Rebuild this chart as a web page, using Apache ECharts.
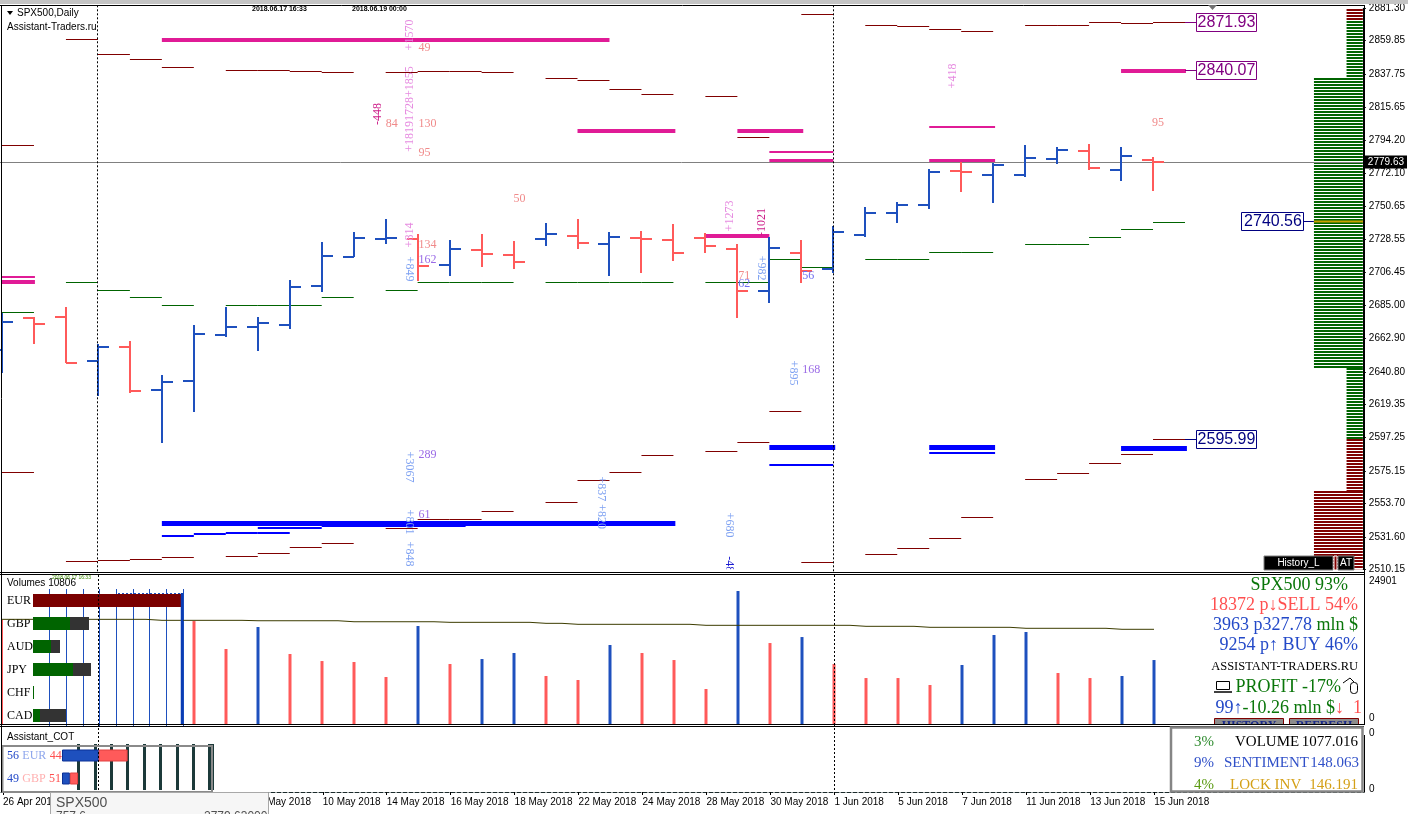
<!DOCTYPE html>
<html>
<head>
<meta charset="utf-8">
<title>SPX500 Daily</title>
<script src="https://cdn.jsdelivr.net/npm/echarts@6.0.0/dist/echarts.min.js"></script>
<style>
  html, body { margin: 0; padding: 0; background: #fff; }
  #chart { width: 1408px; height: 814px; }
</style>
</head>
<body>
<div id="chart"></div>
<script>
const BLUE = '#1E50BE', RED = '#FF5A5A';
const MAROON = '#800000', DKGREEN = '#006400', MAGENTA = '#E01B96', PUREBLUE = '#0000FF';
const SANS = '"Liberation Sans", Arial, sans-serif';
const SERIF = '"Liberation Serif", "Times New Roman", serif';

// trading days, one bar each
const days = ['26 Apr','27 Apr','30 Apr','1 May','2 May','3 May','4 May','7 May','8 May','9 May',
  '10 May','11 May','14 May','15 May','16 May','17 May','18 May','21 May','22 May','23 May',
  '24 May','25 May','28 May','29 May','30 May','31 May','1 Jun','4 Jun','5 Jun','6 Jun',
  '7 Jun','8 Jun','11 Jun','12 Jun','13 Jun','14 Jun','15 Jun'];
const dateTicks = [0,2,4,6,8,10,12,14,16,18,20,22,24,26,28,30,32,34,36];
const monthStarts = [3, 26];
const priceTicks = [2881.30,2859.85,2837.75,2815.65,2794.20,2772.10,2750.65,2728.55,2706.45,
  2685.00,2662.90,2640.80,2619.35,2597.25,2575.15,2553.70,2531.60,2510.15];

const opens = [2655.00,2676.60,2677.27,2648.16,2657.42,2628.97,2634.92,2665.36,2670.65,2671.97,
  2697.58,2716.96,2728.47,2728.67,2711.47,2721.59,2718.28,2728.87,2730.85,2725.56,
  2729.33,2727.81,2729.53,2721.86,2694.47,2719.61,2708.63,2731.32,2746.07,2751.36,
  2773.40,2770.83,2770.83,2781.80,2787.09,2774.32,2780.94];
const highs = [2679.52,2677.00,2683.48,2659.20,2661.19,2638.69,2671.77,2683.88,2676.87,2701.55,
  2726.49,2733.10,2741.90,2731.78,2728.01,2731.98,2727.35,2739.46,2741.90,2733.30,
  2734.16,2738.60,2732.44,2725.16,2730.19,2728.01,2737.27,2749.64,2753.35,2774.78,
  2779.81,2779.15,2790.86,2789.34,2791.52,2789.74,2783.12];
const lows = [2640.22,2659.01,2646.50,2624.80,2626.59,2593.91,2614.41,2663.64,2654.77,2668.93,
  2693.80,2716.50,2725.16,2700.88,2704.19,2710.35,2708.63,2724.24,2721.86,2704.39,
  2706.38,2714.31,2719.21,2676.21,2686.53,2699.76,2705.98,2729.80,2739.06,2748.32,
  2759.96,2752.29,2769.49,2778.09,2774.32,2767.24,2760.63];
const closes = [2673.96,2672.63,2646.80,2657.42,2628.31,2634.26,2666.02,2670.65,2672.90,2697.11,
  2717.42,2729.53,2729.53,2711.01,2721.86,2718.75,2713.65,2732.18,2726.02,2730.19,
  2728.87,2719.61,2724.24,2694.47,2722.92,2707.70,2733.50,2746.07,2751.36,2773.20,
  2772.90,2777.83,2782.46,2787.55,2775.84,2783.38,2779.63];
const lastClose = 2779.63;

// per-bar step levels (segment from bar i to bar i+1)
const upperBand = [2790.66,null,2860.79,2850.87,2847.56,2842.27,null,2840.28,2840.28,2839.62,
  2838.50,null,2838.50,2839.16,2839.16,2838.50,null,2834.99,2833.67,2827.71,
  2824.40,null,2823.08,2796.15,2801.25,2876.87,null,2869.59,2868.93,2867.41,
  2866.28,null,2869.59,2869.59,2872.04,2871.38,2871.93];
const lowerBand = [2574.32,null,2515.44,2516.10,2516.76,2518.09,null,2518.75,2520.73,2524.70,
  2527.35,null,2537.27,2543.23,2543.23,2548.72,null,2554.47,2569.03,2574.32,
  2585.57,null,2588.22,2594.17,2614.68,2514.78,null,2520.07,2524.24,2530.66,
  2544.55,null,2569.69,2573.66,2580.28,2586.43,2595.99];
const midBand = [2680.18,null,2700.02,2694.73,2690.10,2684.81,null,2684.81,2684.81,2684.81,
  2690.10,null,2694.73,2700.02,2700.02,2700.02,null,2700.02,2700.02,2700.02,
  2700.02,null,2700.02,2700.02,2715.24,2709.95,null,2715.24,2715.24,2719.87,
  2719.87,null,2725.16,2725.16,2729.80,2735.09,2739.72];

// zones: [fromBar, toBar, price]
const sellZonesMain = [[0,1.03,2700.42],[5,19,2860.33],[18,21.06,2800.12],[23,25.06,2800.12],
  [24,26,2780.47],[29,31.06,2780.47],[35,37.03,2840.07],[22,24,2730.46]];
const sellZonesEdge = [[0,1.03,2703.73],[24,26,2786.23],[29,31.06,2802.97]];
const buyZonesMain = [[5,21.06,2540.78],[24,26.06,2590.60],[29,31.06,2590.60],[35,37.06,2590.20]];
const buyZonesEdge = [[5,6,2532.38],[6,7,2533.50],[7,8,2533.96],[8,9,2534.35],[8,10,2537.66],
  [10,14.5,2538.98],[24,26,2579.35],[29,31.06,2587.29]];

const tagPrices = [2871.93, 2840.07, 2595.99];
const tagBar = 37;
const pocPrice = 2740.56, pocBar = 41.03;

// volume profile: [lowPrice, highPrice, relative size, side]
const profileBands = [[2873.1,2882.5,1,'s'],[2835.2,2873.1,1,'b'],[2643.1,2835.2,3,'b'],
  [2596.35,2643.1,1,'b'],[2562.1,2596.35,1,'s'],[2509.5,2562.1,3,'s']];

// order-flow annotations: [bar, price, text]
const flowUp = [[12.75,2863.64,'+1570'],[12.75,2814.68,'+18191728+1855'],[12.75,2731.32,'+814'],
  [22.75,2743.89,'+1273'],[29.75,2836.51,'+418']];
const flowUpNeg = [[11.75,2811.37,'-448'],[23.75,2739.92,'-1021']];
const flowDown = [[12.75,2708.82,'+849'],[23.75,2709.48,'+982'],[24.75,2640.02,'+895'],
  [12.75,2577.83,'+3067'],[12.75,2541.44,'+801'],[12.75,2520.27,'+848'],
  [18.75,2554.17,'+837 +820'],[22.75,2539.46,'+680']];
const flowDownNeg = [[22.75,2513.52,'-48']];
const sellCounts = [[13.03,2855.03,'49'],[12.0,2804.75,'84'],[13.03,2804.75,'130'],[13.03,2785.57,'95'],
  [13.03,2724.70,'134'],[16.0,2755.14,'50'],[23.03,2704.21,'71'],[35.97,2805.41,'95']];
const buyCounts = [[13.03,2714.77,'162'],[25.03,2642.00,'168'],[13.03,2585.75,'289'],[13.03,2546.05,'61']];
const buyCountsDeep = [[23.03,2698.91,'62'],[25.03,2704.21,'56']];

// volumes (first bars hidden under the currency widget)
const volumes = [null,null,null,null,null,null,17560,12790,16540,11935,
  10740,10570,8015,16710,10230,11080,12105,8185,7500,13470,
  12105,10910,5970,22680,13810,14830,10230,7840,7840,6650,
  10060,15175,15690,8700,7840,8185,10910];
const volAvg = [17850,17850,17850,17850,17850,17680,17680,17680,17610,17610,
  17610,17440,17440,17440,17340,17340,17340,17170,17000,17000,
  17000,17000,16830,16830,16830,16830,16830,16660,16660,16490,
  16490,16490,16320,16320,16320,16150,16150];
const volScaleMax = 24901;

// currency widget
const widgetCcy = ['EUR','GBP','AUD','JPY','CHF','CAD'];
const widgetMain = [44.4, 11.1, 5.4, 12.0, 0.3, 2.1];
const widgetRest = [0, 5.7, 2.7, 5.4, 0, 7.8];

// COT widget
const cotCcy = ['EUR','GBP'];
const cotPctLong = [56, 49], cotPctShort = [44, 51];
const cotSizeLong = [56, 12], cotSizeShort = [44, 12.5];

const ohlc = opens.map((o, i) => [i, o, highs[i], lows[i], closes[i]]);

function crisp(v) { return Math.round(v - 0.5) + 0.5; }

function renderOhlc(params, api) {
  const i = api.value(0);
  const o = api.coord([i, api.value(1)]);
  const h = api.coord([i, api.value(2)]);
  const l = api.coord([i, api.value(3)]);
  const c = api.coord([i, api.value(4)]);
  const col = api.value(4) >= api.value(1) ? BLUE : RED;
  const x = Math.round(o[0]);
  const st = { stroke: col, lineWidth: 2 };
  return { type: 'group', children: [
    { type: 'line', shape: { x1: x, y1: Math.round(h[1]), x2: x, y2: Math.round(l[1]) }, style: st },
    { type: 'line', shape: { x1: x - 11, y1: Math.round(o[1]), x2: x, y2: Math.round(o[1]) }, style: st },
    { type: 'line', shape: { x1: x, y1: Math.round(c[1]), x2: x + 11, y2: Math.round(c[1]) }, style: st }
  ]};
}

function stepSeries(arr, color) {
  return {
    type: 'custom', xAxisIndex: 0, yAxisIndex: 0, clip: true, silent: true, z: 3,
    data: arr.map((p, i) => p == null ? null : [i, p]).filter(Boolean),
    renderItem: (params, api) => {
      const a = api.coord([api.value(0), api.value(1)]);
      const b = api.coord([api.value(0) + 1, api.value(1)]);
      const y = crisp(a[1]);
      return { type: 'line', shape: { x1: a[0], y1: y, x2: b[0], y2: y }, style: { stroke: color, lineWidth: 1 } };
    }
  };
}

function zoneSeries(arr, color, width) {
  return {
    type: 'custom', xAxisIndex: 0, yAxisIndex: 0, clip: true, silent: true, z: 4,
    data: arr.map(r => [r[0], r[2], r[1]]),
    renderItem: (params, api) => {
      const a = api.coord([api.value(0), api.value(1)]);
      const b = api.coord([api.value(2), api.value(1)]);
      const y = width % 2 ? crisp(a[1]) : Math.round(a[1]);
      return { type: 'line', shape: { x1: a[0], y1: y, x2: b[0], y2: y }, style: { stroke: color, lineWidth: width } };
    }
  };
}

function textSeries(list, color, rot, align) {
  return {
    type: 'custom', xAxisIndex: 0, yAxisIndex: 0, clip: true, silent: true, z: 7,
    data: list.map(r => [r[0], r[1]]),
    renderItem: (params, api) => {
      const pt = api.coord([api.value(0), api.value(1)]);
      return { type: 'text', x: pt[0], y: pt[1], rotation: rot, style: {
        text: list[params.dataIndex][2], fill: color, font: '12px ' + SERIF,
        align: align, textAlign: align, verticalAlign: 'middle', textVerticalAlign: 'middle' } };
    }
  };
}

function sepSeries(xi, yi, yv) {
  return {
    type: 'custom', xAxisIndex: xi, yAxisIndex: yi, silent: true, z: 8,
    data: monthStarts.map(m => [m, yv]),
    renderItem: (params, api) => {
      const x = crisp(api.coord([api.value(0), api.value(1)])[0]);
      const cs = params.coordSys;
      return { type: 'line', shape: { x1: x, y1: cs.y - 3, x2: x, y2: cs.y + cs.height + 2 },
        style: { stroke: '#000', lineWidth: 1, lineDash: [2, 2] } };
    }
  };
}

function txt(x, y, text, fill, font, align, z) {
  return { type: 'text', x: x, y: y, z: z || 100, silent: true, style: {
    text: text, fill: fill, font: font, align: align || 'left', textAlign: align || 'left',
    verticalAlign: 'middle', textVerticalAlign: 'middle' } };
}
function richTxt(x, y, text, rich, align) {
  return { type: 'text', x: x, y: y, z: 100, silent: true, style: {
    text: text, rich: rich, align: align || 'right', textAlign: align || 'right',
    verticalAlign: 'middle', textVerticalAlign: 'middle' } };
}
function tok(color, size) {
  return { fill: color, fontFamily: SERIF, fontSize: size || 18 };
}
function hline(x1, x2, y, color, w, z, dash) {
  const s = { stroke: color, lineWidth: w || 1 };
  if (dash) s.lineDash = dash;
  return { type: 'line', z: z || 100, silent: true, shape: { x1: x1, y1: y, x2: x2, y2: y }, style: s };
}
function vline(x, y1, y2, color, w, z, dash) {
  const s = { stroke: color, lineWidth: w || 1 };
  if (dash) s.lineDash = dash;
  return { type: 'line', z: z || 100, silent: true, shape: { x1: x, y1: y1, x2: x, y2: y2 }, style: s };
}
function box(x, y, w, h, fill, stroke, lw, z) {
  return { type: 'rect', z: z || 100, silent: true, shape: { x: x, y: y, width: w, height: h },
    style: { fill: fill, stroke: stroke || null, lineWidth: lw || 1 } };
}

const infoBlue = '#2349C8', infoGreen = '#0A760A', infoRed = '#FF5050';

const graphicEls = [
  box(0, 0, 1408, 4, '#C4C4C4', null, 1, 90),
  hline(0, 1365, 5.5, '#000'),
  vline(1.5, 5, 792, '#000'),
  vline(1364.5, 5, 792, '#000'),
  hline(0, 1364, 572.5, '#000'), hline(0, 1364, 574.5, '#000'),
  hline(0, 1364, 724.5, '#000', 1, 102), hline(0, 1364, 726.5, '#000', 1, 102),
  { type: 'polygon', z: 100, silent: true, shape: { points: [[7, 11], [13, 11], [10, 15]] }, style: { fill: '#000' } },
  txt(17, 13.5, 'SPX500,Daily', '#000', '10px ' + SANS),
  txt(7, 27, 'Assistant-Traders.ru', '#000', '10px ' + SANS),
  txt(252, 9.5, '2018.06.17 16:33', '#000', 'bold 7px ' + SANS),
  txt(352, 9.5, '2018.06.19 00:00', '#000', 'bold 7px ' + SANS),
  { type: 'polygon', z: 100, silent: true, shape: { points: [[1208, 5], [1217, 5], [1212.5, 10]] }, style: { fill: '#707070' } },
  box(1264, 556, 69, 14, '#000', '#808080'),
  txt(1298.5, 563.5, 'History_L', '#fff', '10px ' + SANS, 'center'),
  box(1334, 556, 3, 14, MAROON, '#fff'),
  box(1338, 556, 16, 14, '#000', '#808080'),
  txt(1346, 563.5, 'AT', '#fff', '10px ' + SANS, 'center'),
  // volume window
  txt(7, 583, 'Volumes 10806', '#000', '10px ' + SANS),
  txt(52, 577.5, '2018.06.17 16:33', '#3C8C00', '5px ' + SANS),
  vline(2.5, 620, 724, RED),
  vline(182, 593, 724, '#0A3CB4', 2.5),
  hline(118, 182, 593.5, BLUE, 1, 100, [2, 2]),
  richTxt(1348, 585, '{g|SPX500 93%}', { g: tok(infoGreen) }),
  richTxt(1358, 605, '{r|18372 p↓SELL 54%}', { r: tok(infoRed) }),
  richTxt(1358, 625, '{b|3963 p327.78 }{g|mln $}', { b: tok(infoBlue), g: tok(infoGreen) }),
  richTxt(1358, 645.5, '{b|9254 p↑ BUY 46%}', { b: tok(infoBlue) }),
  txt(1358, 667, 'ASSISTANT-TRADERS.RU', '#000', '12.5px ' + SERIF, 'right'),
  richTxt(1341, 687, '{g|PROFIT -17%}', { g: tok(infoGreen) }),
  box(1216.5, 681.5, 13, 8, '#fff', '#000'),
  hline(1214, 1232, 692, '#000', 1.5),
  { type: 'rect', z: 100, silent: true, shape: { x: 1350.5, y: 682.5, width: 7, height: 11, r: 3 }, style: { fill: '#fff', stroke: '#000' } },
  { type: 'polyline', z: 100, silent: true, shape: { points: [[1354, 682], [1350, 678], [1343, 683]] }, style: { stroke: '#000', fill: null } },
  richTxt(1362, 708, '{b|99↑}{g|-10.26 mln $}{r|↓  1}', { b: tok(infoBlue), g: tok(infoGreen), r: tok(infoRed) }),
  box(1214.5, 718.5, 69, 12, '#8C8C8C', MAROON),
  txt(1249, 726, 'HISTORY', '#1A2A8A', 'bold 12px ' + SERIF, 'center'),
  box(1289.5, 718.5, 69, 12, '#8C8C8C', MAROON),
  txt(1324, 726, 'REFRESH', '#1A2A8A', 'bold 12px ' + SERIF, 'center'),
  box(1205, 725, 160, 10, '#fff', null, 1, 101),
  // COT window
  txt(7, 737, 'Assistant_COT', '#000', '10px ' + SANS),
  box(2.5, 746, 209.5, 46, null, '#8A8A8A', 2, 99),
  box(1171, 727.5, 191.5, 64, '#fff', '#858585', 2.5, 102),
  txt(1194, 742, '3%', '#2E8B2E', '15px ' + SERIF, 'left', 103),
  txt(1235, 742, 'VOLUME', '#000', '15px ' + SERIF, 'left', 103),
  txt(1358, 742, '1077.016', '#000', '15px ' + SERIF, 'right', 103),
  txt(1194, 763.5, '9%', '#3050C8', '15px ' + SERIF, 'left', 103),
  txt(1224, 763.5, 'SENTIMENT', '#3050C8', '15px ' + SERIF, 'left', 103),
  txt(1359, 763.5, '148.063', '#3050C8', '15px ' + SERIF, 'right', 103),
  txt(1194, 785, '4%', '#5A9A10', '15px ' + SERIF, 'left', 103),
  txt(1230, 785, 'LOCK INV', '#D4A017', '15px ' + SERIF, 'left', 103),
  txt(1358, 785, '146.191', '#D4A017', '15px ' + SERIF, 'right', 103),
  // tooltip stub at the bottom
  box(50.5, 792.5, 218, 30, '#F6F6F6', '#A8A8A8', 1, 105),
  txt(56, 803, 'SPX500', '#505050', '14px ' + SANS, 'left', 106),
  txt(56, 817, '757.6', '#505050', '12px ' + SANS, 'left', 106),
  txt(204, 817, '2779.63000', '#505050', '12px ' + SANS, 'left', 106)
];

const xBase = { type: 'value', min: -0.0625, max: 42.5625, show: false, axisLine: { onZero: false } };
const noZeroLine = { show: true, onZero: false, lineStyle: { color: '#000' } };

const option = {
  animation: false,
  backgroundColor: '#fff',
  grid: [
    { left: 0, top: 8.3, width: 1364, height: 561 },
    { left: 0, top: 578, width: 1364, height: 146 },
    { left: 0, top: 727, width: 1364, height: 65 },
    { left: 33, top: 589, width: 150, height: 138 },
    { left: 62, top: 744, width: 150, height: 46 }
  ],
  xAxis: [
    Object.assign({ gridIndex: 0 }, xBase),
    Object.assign({ gridIndex: 1 }, xBase),
    Object.assign({}, xBase, {
      gridIndex: 2, show: true, position: 'bottom',
      axisLine: { show: true, onZero: false, lineStyle: { color: '#1A2A2A', type: 'dashed', width: 1 } },
      axisTick: { show: true, customValues: dateTicks, length: 3, lineStyle: { color: '#000' } },
      axisLabel: { show: true, customValues: dateTicks, formatter: v => days[Math.round(v)] + ' 2018',
        align: 'left', margin: 5, color: '#000', fontFamily: SANS, fontSize: 10 },
      splitLine: { show: false }
    }),
    { type: 'value', gridIndex: 3, min: 0, max: 45, interval: 5, axisLine: { show: false, onZero: false }, axisTick: { show: false },
      axisLabel: { show: false }, splitLine: { show: true, showMinLine: false, lineStyle: { color: BLUE, width: 1 } } },
    { type: 'value', gridIndex: 4, min: 0, max: 228.6, interval: 25, axisLine: { show: false, onZero: false }, axisTick: { show: false },
      axisLabel: { show: false }, splitLine: { show: true, showMinLine: false, lineStyle: { color: '#1C3A3A', width: 3 } } }
  ],
  yAxis: [
    { type: 'value', gridIndex: 0, min: 2510.15, max: 2881.30, position: 'right',
      axisLine: noZeroLine,
      axisTick: { show: true, inside: false, customValues: priceTicks, length: 3, lineStyle: { color: '#000' } },
      axisLabel: { customValues: priceTicks, formatter: v => v.toFixed(2), color: '#000', fontFamily: SANS, fontSize: 10, margin: 6 },
      splitLine: { show: false } },
    { type: 'value', gridIndex: 1, min: 0, max: volScaleMax, position: 'right',
      axisLine: noZeroLine, axisTick: { show: false },
      axisLabel: { customValues: [0, volScaleMax], margin: 5, color: '#000', fontFamily: SANS, fontSize: 10,
        formatter: v => v === 0 ? '{lo|0}' : '{hi|' + volScaleMax + '}',
        rich: { lo: { padding: [0, 0, 12, 0], fontFamily: SANS, fontSize: 10, color: '#000' },
                hi: { padding: [7, 0, 0, 0], fontFamily: SANS, fontSize: 10, color: '#000' } } },
      splitLine: { show: false } },
    { type: 'value', gridIndex: 2, min: 0, max: 1, position: 'right',
      axisLine: noZeroLine, axisTick: { show: false },
      axisLabel: { customValues: [0, 1], margin: 5, color: '#000', fontFamily: SANS, fontSize: 10,
        formatter: v => v === 0 ? '{lo|0}' : '{hi|0}',
        rich: { lo: { padding: [0, 0, 6, 0], fontFamily: SANS, fontSize: 10, color: '#000' },
                hi: { padding: [12, 0, 0, 0], fontFamily: SANS, fontSize: 10, color: '#000' } } },
      splitLine: { show: false } },
    { type: 'category', gridIndex: 3, data: widgetCcy, inverse: true, axisLine: { show: false, onZero: false }, axisTick: { show: false },
      axisLabel: { align: 'left', margin: 26, color: '#000', fontFamily: SERIF, fontSize: 12 } },
    { type: 'category', gridIndex: 4, data: cotCcy, inverse: true, axisLine: { show: false, onZero: false }, axisTick: { show: false },
      axisLabel: { align: 'left', margin: 55,
        formatter: (v, i) => '{b|' + cotPctLong[i] + '} {' + (i === 0 ? 'e' : 'g') + '|' + v + '} {r|' + cotPctShort[i] + '}',
        rich: { b: { color: '#2349C8', fontFamily: SERIF, fontSize: 12 },
                e: { color: '#8EA6EC', fontFamily: SERIF, fontSize: 12 },
                g: { color: '#FFB0B0', fontFamily: SERIF, fontSize: 12 },
                r: { color: '#FF5050', fontFamily: SERIF, fontSize: 12 } } } }
  ],
  graphic: { elements: graphicEls },
  series: [
    // current price line
    { type: 'line', xAxisIndex: 0, yAxisIndex: 0, data: [[36, lastClose]], symbol: 'none', silent: true,
      lineStyle: { opacity: 0 }, z: 1,
      markLine: { symbol: 'none', silent: true, animation: false, data: [{ yAxis: lastClose }],
        lineStyle: { color: '#808080', width: 1, type: 'solid' },
        label: { show: true, position: 'end', distance: 2, formatter: '2779.63', backgroundColor: '#000',
          color: '#fff', fontFamily: SANS, fontSize: 10, padding: [2, 3, 1, 3] } } },
    // volume profile
    { type: 'custom', xAxisIndex: 0, yAxisIndex: 0, clip: true, silent: true, z: 2,
      data: profileBands.map(b => [42, b[0], b[1]]),
      renderItem: (params, api) => {
        const band = profileBands[params.dataIndex];
        const top = Math.round(api.coord([0, band[1]])[1]);
        const bot = Math.round(api.coord([0, band[0]])[1]);
        const cs = params.coordSys;
        const right = cs.x + cs.width;
        const w = band[2] * 16.3;
        const col = band[3] === 'b' ? DKGREEN : MAROON;
        const kids = [];
        for (let y = top; y < bot; y += 3) {
          kids.push({ type: 'line', shape: { x1: right - w, y1: y + 1, x2: right, y2: y + 1 }, style: { stroke: col, lineWidth: 2 } });
        }
        return { type: 'group', children: kids };
      } },
    // POC tag
    { type: 'custom', xAxisIndex: 0, yAxisIndex: 0, clip: true, silent: true, z: 6,
      data: [[pocBar, pocPrice]],
      renderItem: (params, api) => {
        const pt = api.coord([api.value(0), api.value(1)]);
        const y = crisp(pt[1]);
        return { type: 'group', children: [
          { type: 'line', shape: { x1: pt[0], y1: y, x2: pt[0] + 50, y2: y }, style: { stroke: '#C8A000', lineWidth: 2 } },
          { type: 'line', shape: { x1: pt[0] - 10, y1: y, x2: pt[0], y2: y }, style: { stroke: '#000080', lineWidth: 1 } },
          { type: 'rect', shape: { x: Math.round(pt[0]) - 72.5, y: y - 9, width: 62, height: 18 }, style: { fill: '#fff', stroke: '#000080', lineWidth: 1 } },
          { type: 'text', x: Math.round(pt[0]) - 41, y: y + 0.5, style: { text: api.value(1).toFixed(2), fill: '#000080',
            font: '16px ' + SANS, align: 'center', textAlign: 'center', verticalAlign: 'middle', textVerticalAlign: 'middle' } }
        ]};
      } },
    stepSeries(upperBand, MAROON),
    stepSeries(lowerBand, MAROON),
    stepSeries(midBand, DKGREEN),
    zoneSeries(sellZonesEdge, MAGENTA, 2),
    zoneSeries(sellZonesMain, MAGENTA, 4),
    zoneSeries(buyZonesEdge, PUREBLUE, 2),
    zoneSeries(buyZonesMain, PUREBLUE, 5),
    // price tags
    { type: 'custom', xAxisIndex: 0, yAxisIndex: 0, clip: true, silent: true, z: 6,
      data: tagPrices.map(p => [tagBar, p]),
      renderItem: (params, api) => {
        const p = api.value(1);
        const pt = api.coord([api.value(0), p]);
        const col = p > lastClose ? '#800080' : '#000080';
        const y = crisp(pt[1]);
        const x = Math.round(pt[0]);
        return { type: 'group', children: [
          { type: 'line', shape: { x1: x, y1: y, x2: x + 11, y2: y }, style: { stroke: col, lineWidth: 1 } },
          { type: 'rect', shape: { x: x + 11.5, y: y - 9, width: 60, height: 18 }, style: { fill: '#fff', stroke: col, lineWidth: 1 } },
          { type: 'text', x: x + 41.5, y: y + 0.5, style: { text: p.toFixed(2), fill: col, font: '16px ' + SANS,
            align: 'center', textAlign: 'center', verticalAlign: 'middle', textVerticalAlign: 'middle' } }
        ]};
      } },
    // OHLC bars
    { type: 'custom', xAxisIndex: 0, yAxisIndex: 0, clip: true, silent: true, z: 5, data: ohlc, renderItem: renderOhlc },
    textSeries(flowUp, '#E68AE0', Math.PI / 2, 'center'),
    textSeries(flowUpNeg, '#CC1C88', Math.PI / 2, 'center'),
    textSeries(flowDown, '#7FA2F2', -Math.PI / 2, 'center'),
    textSeries(flowDownNeg, '#1A1AD0', -Math.PI / 2, 'center'),
    textSeries(sellCounts, '#F08A8A', 0, 'left'),
    textSeries(buyCounts, '#9A6AE6', 0, 'left'),
    textSeries(buyCountsDeep, '#6E6EF0', 0, 'left'),
    sepSeries(0, 0, 2600),
    // volumes
    { type: 'bar', xAxisIndex: 1, yAxisIndex: 1, barWidth: 3, silent: true, z: 2,
      data: volumes.map((v, i) => v == null ? null : {
        value: [i, v],
        itemStyle: { color: (volumes[i - 1] != null && v > volumes[i - 1]) ? BLUE : RED }
      }).filter(Boolean) },
    { type: 'line', xAxisIndex: 1, yAxisIndex: 1, step: 'middle', symbol: 'none', silent: true, z: 4,
      data: volAvg.map((v, i) => [i, v]), lineStyle: { color: '#3C3C00', width: 1 } },
    sepSeries(1, 1, 0),
    sepSeries(2, 2, 0),
    // currency widget
    { type: 'bar', xAxisIndex: 3, yAxisIndex: 3, stack: 'ccy', barWidth: 13, silent: true, z: 5,
      data: widgetMain, itemStyle: { color: p => p.dataIndex === 0 ? '#7A0000' : DKGREEN } },
    { type: 'bar', xAxisIndex: 3, yAxisIndex: 3, stack: 'ccy', barWidth: 13, silent: true, z: 5,
      data: widgetRest, itemStyle: { color: '#333333' } },
    // COT widget
    { type: 'bar', xAxisIndex: 4, yAxisIndex: 4, stack: 'cot', barWidth: 12, silent: true, z: 5,
      data: cotSizeLong, itemStyle: { color: BLUE, borderColor: '#0A3096', borderWidth: 1 } },
    { type: 'bar', xAxisIndex: 4, yAxisIndex: 4, stack: 'cot', barWidth: 12, silent: true, z: 5,
      data: cotSizeShort, itemStyle: { color: '#FF5A5A', borderColor: '#E04040', borderWidth: 1 } }
  ]
};

const chart = echarts.init(document.getElementById('chart'), null, { renderer: 'canvas', width: 1408, height: 814 });
chart.setOption(option);
</script>
</body>
</html>
